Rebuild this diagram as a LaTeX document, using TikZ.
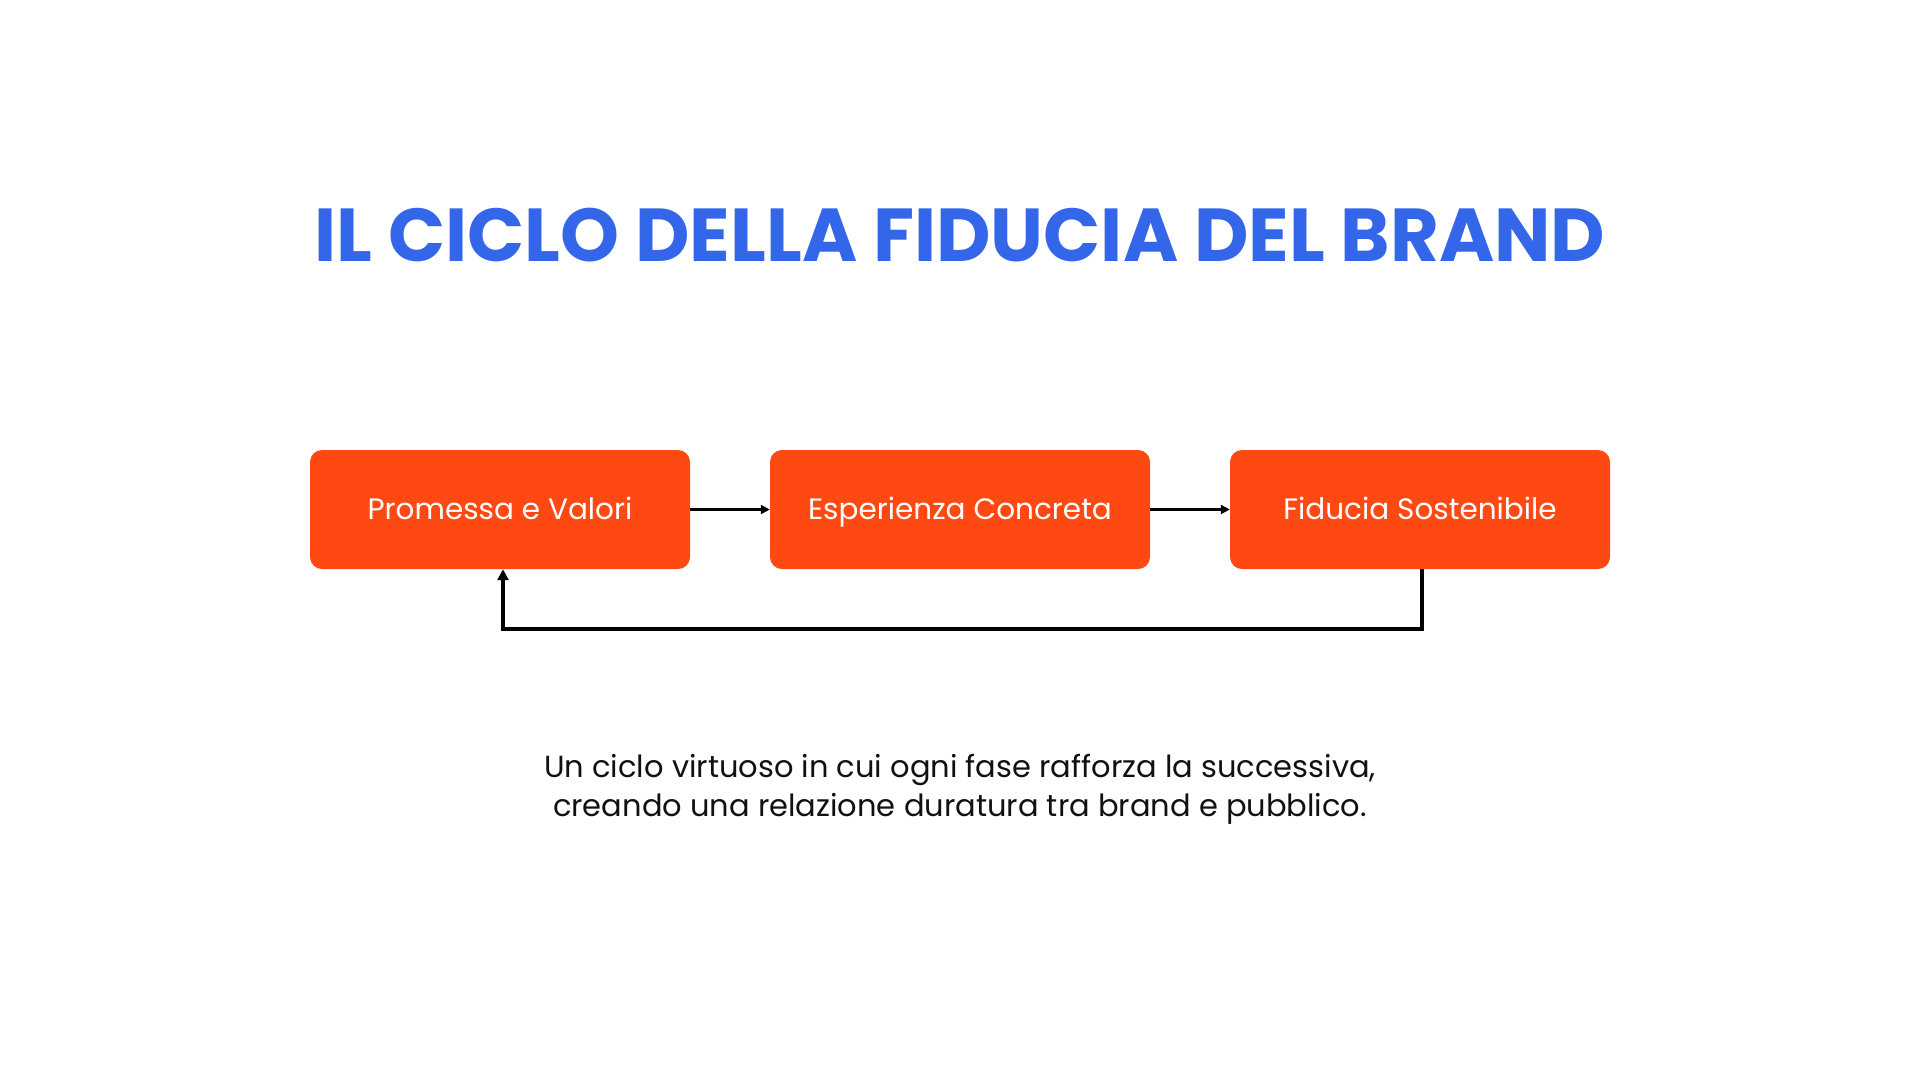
\documentclass[tikz,border=0pt]{standalone}
\usepackage{fontspec}
\setmainfont{Poppins}
\usetikzlibrary{arrows.meta}
\definecolor{titleblue}{HTML}{3366E8}
\definecolor{boxorange}{HTML}{FF4912}
\definecolor{inkdark}{HTML}{111111}
\tikzset{
  x=1pt, y=-1pt,
  stepbox/.style={fill=boxorange, draw=none, rounded corners=12pt, minimum width=380pt, minimum height=119pt, inner sep=0pt, text height=27pt, text depth=7pt, text=white, font=\fontsize{29.5}{35}\selectfont},
  flow/.style={draw=black, line width=2.4pt, -{Triangle[length=9pt,width=9pt]}},
  back/.style={draw=black, line width=3.2pt, -{Triangle[length=11pt,width=11pt]}},
}
\begin{document}
\begin{tikzpicture}
\useasboundingbox (0,0) rectangle (1920,1080);
\node[font=\fontsize{75}{88}\bfseries\selectfont, text=titleblue] (title) at (960,235) {IL CICLO DELLA FIDUCIA DEL BRAND};
\node[stepbox] (a) at (500,509.5) {Promessa e Valori};
\node[stepbox] (b) at (960,509.5) {Esperienza Concreta};
\node[stepbox] (c) at (1420,509.5) {Fiducia Sostenibile};
\draw[flow] (a.east) -- (b.west);
\draw[flow] (b.east) -- (c.west);
\coordinate (c1) at (1422,629);
\coordinate (a1) at (503,629);
\draw[back] (c.south -| c1) -- (c1) -- (a1) -- (a.south -| a1);
\node[font=\fontsize{30.5}{39}\selectfont, text=inkdark, align=center] (desc) at (960,789.5) {Un ciclo virtuoso in cui ogni fase rafforza la successiva,\\creando una relazione duratura tra brand e pubblico.};
\end{tikzpicture}
\end{document}
